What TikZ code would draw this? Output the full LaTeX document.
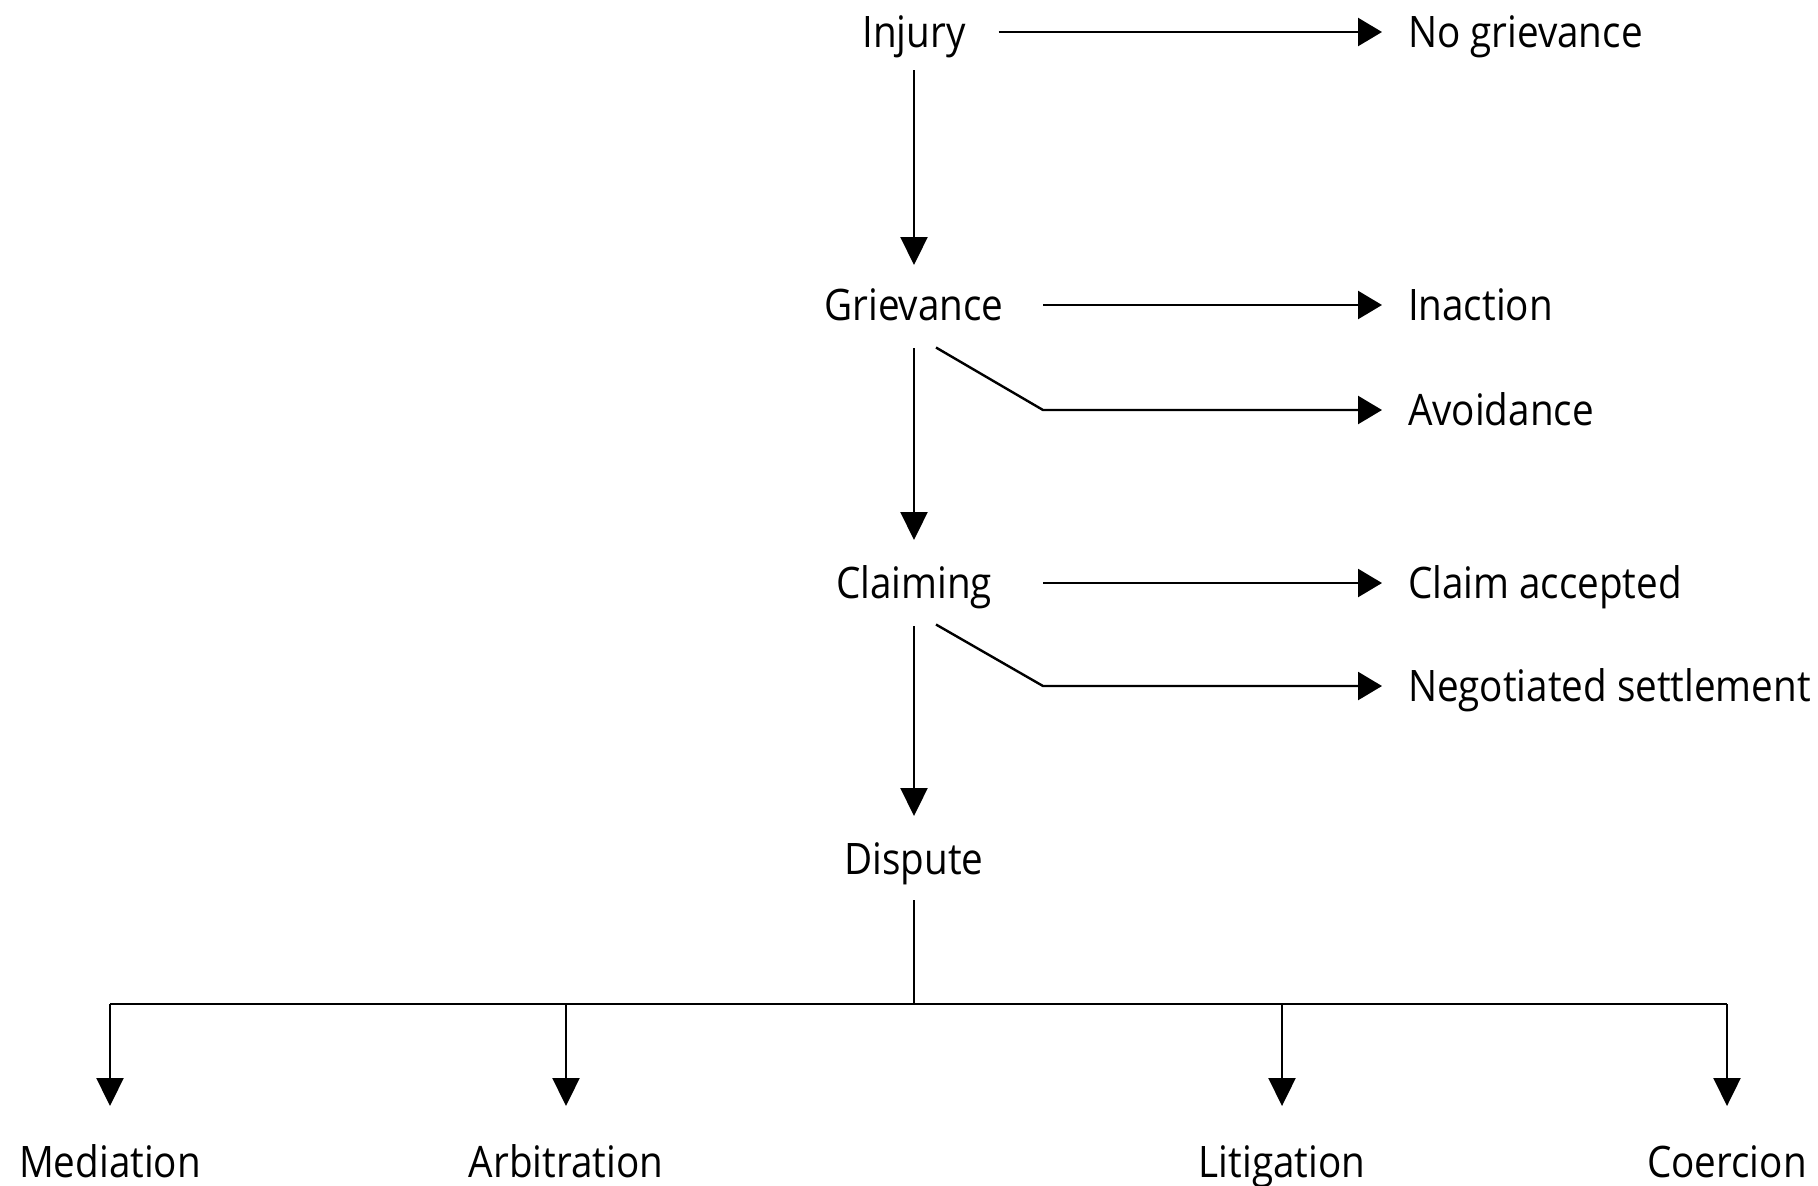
\documentclass[tikz,border=0pt]{standalone}
\usepackage{fontspec}
\setmainfont{Open Sans}[FakeStretch=0.89]
\usetikzlibrary{arrows.meta}
\begin{document}
\begin{tikzpicture}[x=0.5pt,y=-0.5pt,
  lbl/.style={font=\fontsize{21.7}{26}\selectfont, inner sep=0pt, outer sep=0pt, text height=15.5pt, text depth=0pt},
  varr/.style={line width=1.1pt, -{Triangle[length=14pt,width=13.5pt]}},
  harr/.style={line width=1.2pt, -{Triangle[length=12pt,width=14pt]}, line join=round},
  busline/.style={line width=1.4pt},
  thin/.style={line width=0.8pt}]
\useasboundingbox (0,0) rectangle (1818,1185);
% main column
\node[lbl] (injury) at (914,32) {Injury};
\node[lbl] (grievance) at (914,305) {Grievance};
\node[lbl] (claiming) at (914,583) {Claiming};
\node[lbl] (dispute) at (914,859) {Dispute};
% side outcomes
\node[lbl, anchor=west] (nogrievance) at (1408,32) {No grievance};
\node[lbl, anchor=west] (inaction) at (1408,305) {Inaction};
\node[lbl, anchor=west] (avoidance) at (1408,410) {Avoidance};
\node[lbl, anchor=west] (accepted) at (1408,583) {Claim accepted};
\node[lbl, anchor=west] (negotiated) at (1408,686) {Negotiated settlement};
% bottom outcomes
\node[lbl] (mediation) at (110,1162) {Mediation};
\node[lbl] (arbitration) at (566,1162) {Arbitration};
\node[lbl] (litigation) at (1282,1162) {Litigation};
\node[lbl] (coercion) at (1727,1162) {Coercion};
% knees and bus
\coordinate (gknee) at (1043,410);
\coordinate (cknee) at (1043,686);
\coordinate (bus) at (914,1004);
% vertical arrows
\draw[varr, shorten <=11.25pt, shorten >=12.25pt] (injury.south) -- (grievance.north);
\draw[varr, shorten <=13.75pt, shorten >=13.75pt] (grievance.south) -- (claiming.north);
\draw[varr, shorten <=13.75pt, shorten >=13.75pt] (claiming.south) -- (dispute.north);
% horizontal arrows
\draw[harr, shorten <=16.5pt, shorten >=13pt] (injury.east) -- (nogrievance.west);
\draw[harr, shorten >=13pt] (gknee |- grievance.east) -- (inaction.west);
\draw[harr, shorten >=13pt] ([shift={(11pt,-13.5pt)}]grievance.south) -- (gknee) -- (avoidance.west);
\draw[harr, shorten >=13pt] (cknee |- claiming.east) -- (accepted.west);
\draw[harr, shorten >=13pt] ([shift={(11pt,-13pt)}]claiming.south) -- (cknee) -- (negotiated.west);
% dispute to bus
\draw[thin, shorten <=12.75pt] (dispute.south) -- (bus);
\draw[busline] (mediation |- bus) -- (coercion |- bus);
\draw[varr, shorten >=20.25pt] (mediation |- bus) -- (mediation.north);
\draw[varr, shorten >=20.25pt] (arbitration |- bus) -- (arbitration.north);
\draw[varr, shorten >=20.25pt] (litigation |- bus) -- (litigation.north);
\draw[varr, shorten >=20.25pt] (coercion |- bus) -- (coercion.north);
\end{tikzpicture}
\end{document}
